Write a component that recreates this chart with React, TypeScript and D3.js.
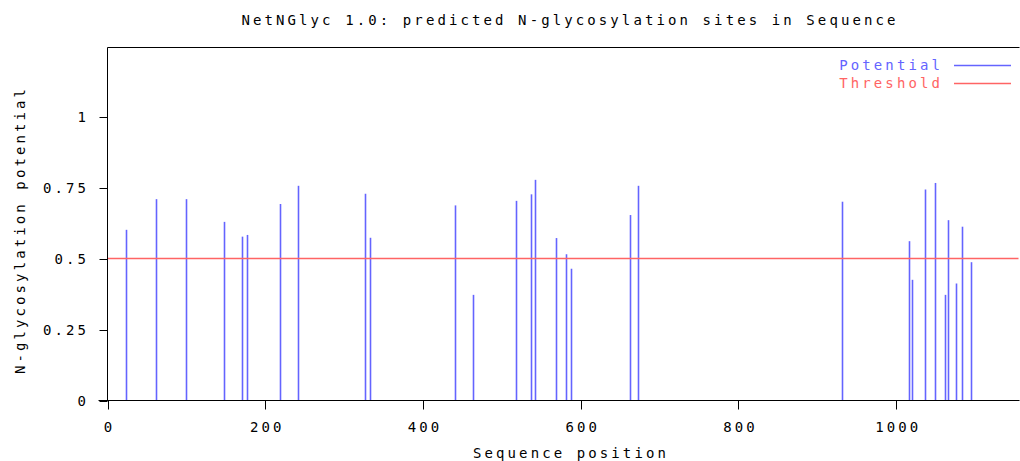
import React from "react";
import * as d3 from "d3";

// predicted N-glycosylation sites
const positions = [23, 61, 99, 148, 171, 177, 219, 242, 326, 333, 440, 463, 518, 537, 542, 569, 581, 588, 663, 672, 931, 1016, 1020, 1036, 1049, 1062, 1066, 1076, 1083, 1095];
const potentials = [0.601, 0.709, 0.709, 0.629, 0.577, 0.583, 0.692, 0.756, 0.728, 0.573, 0.687, 0.372, 0.703, 0.726, 0.777, 0.572, 0.515, 0.464, 0.653, 0.756, 0.7, 0.561, 0.425, 0.743, 0.766, 0.372, 0.635, 0.412, 0.612, 0.487];
const threshold = 0.5;
const xTicks = [0, 200, 400, 600, 800, 1000];
const yTicks = [0, 0.25, 0.5, 0.75, 1];
const yTickLabels = ["0", "0.25", "0.5", "0.75", "1"];

const W = 1020;
const H = 461;
const left = 107.5;
const right = 1018.5;
const top = 47.5;
const bottom = 400.5;

const blue = "#6464ff";
const red = "#ff6464";
const font = {
  fontFamily: "'DejaVu Sans Mono', monospace",
  fontSize: 14,
  letterSpacing: 3.1,
};

export default function App() {
  const x = d3.scaleLinear().domain([0, 1155]).range([left, right]);
  const y = d3.scaleLinear().domain([0, 1.243]).range([bottom, top]);

  return (
    <div style={{ position: "fixed", top: 0, left: 0 }}>
      <svg width={W} height={H} style={{ display: "block", background: "#fff" }}>
        <text x={570} y={25} textAnchor="middle" style={font} fill="#000">
          NetNGlyc 1.0: predicted N-glycosylation sites in Sequence
        </text>

        {/* bars */}
        {positions.map((p, i) => (
          <line
            key={i}
            x1={Math.round(x(p)) + 0.5}
            x2={Math.round(x(p)) + 0.5}
            y1={y(0)}
            y2={y(potentials[i])}
            stroke={blue}
            strokeWidth={1.6}
          />
        ))}

        {/* threshold */}
        <line x1={left} x2={right} y1={y(threshold)} y2={y(threshold)} stroke={red} strokeWidth={1.6} />

        {/* frame */}
        <line x1={left} x2={right + 1} y1={top} y2={top} stroke="#000" />
        <line x1={left} x2={left} y1={top} y2={bottom} stroke="#000" />
        <line x1={left - 9} x2={right + 1} y1={bottom} y2={bottom} stroke="#000" />

        {/* y axis */}
        {yTicks.map((t, i) => (
          <g key={t}>
            <line x1={left - 8} x2={left} y1={Math.round(y(t)) + 0.5} y2={Math.round(y(t)) + 0.5} stroke="#000" />
            <text x={89} y={y(t) + 5} textAnchor="end" style={font} fill="#000">
              {yTickLabels[i]}
            </text>
          </g>
        ))}

        {/* x axis */}
        {xTicks.map((t) => (
          <g key={t}>
            <line x1={Math.round(x(t)) + 0.5} x2={Math.round(x(t)) + 0.5} y1={bottom} y2={bottom + 9} stroke="#000" />
            <text x={x(t) + 2} y={432} textAnchor="middle" style={font} fill="#000">
              {t}
            </text>
          </g>
        ))}

        <text x={571} y={458} textAnchor="middle" style={font} fill="#000">
          Sequence position
        </text>
        <text
          transform="translate(25,230) rotate(-90)"
          textAnchor="middle"
          style={font}
          fill="#000"
        >
          N-glycosylation potential
        </text>

        {/* legend */}
        <text x={943} y={70} textAnchor="end" style={font} fill={blue}>
          Potential
        </text>
        <line x1={954} x2={1011} y1={65.5} y2={65.5} stroke={blue} strokeWidth={1.4} />
        <text x={943} y={88} textAnchor="end" style={font} fill={red}>
          Threshold
        </text>
        <line x1={954} x2={1011} y1={83.5} y2={83.5} stroke={red} strokeWidth={1.4} />
      </svg>
    </div>
  );
}
